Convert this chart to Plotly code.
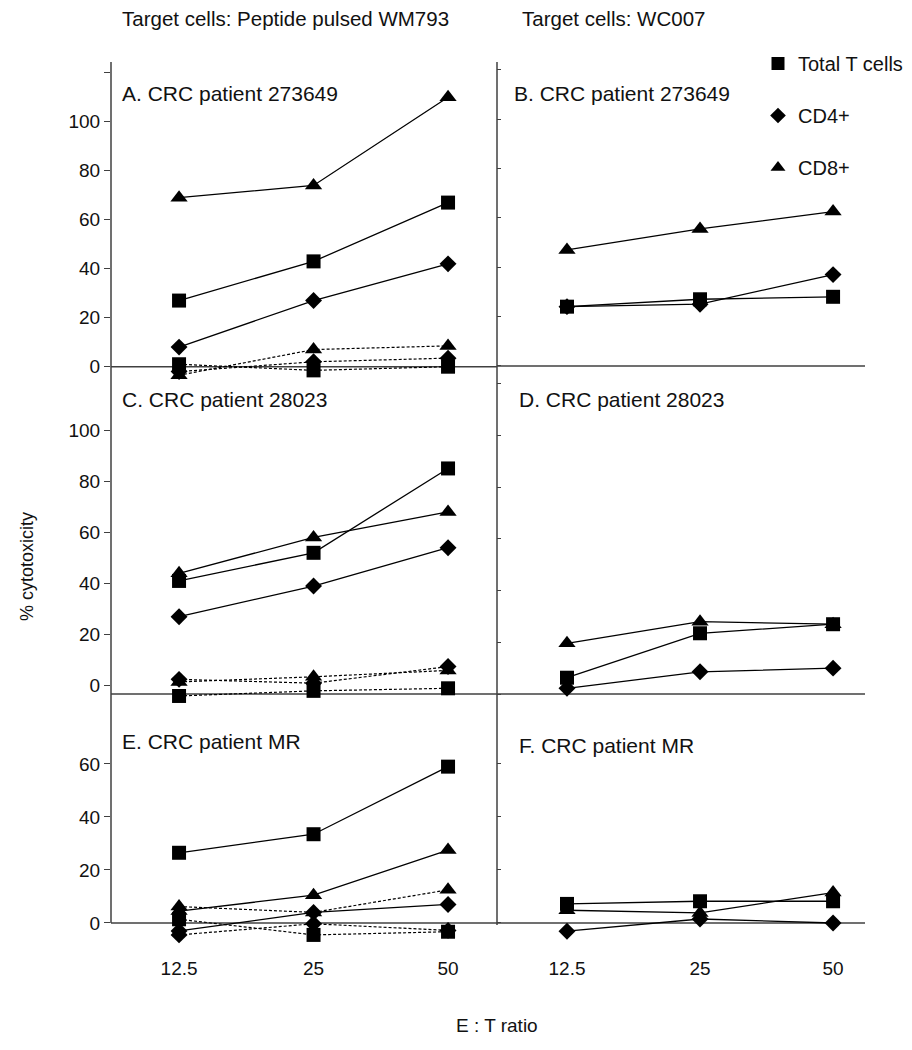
import plotly.graph_objects as go

# ---------------- data ----------------
ratios = ["12.5", "25", "50"]
x_idx = [0, 1, 2]

series_names = ["Total T cells", "CD4+", "CD8+"]
symbols = ["square", "diamond", "triangle-up"]
marker_sizes = [14, 13, 15]

# Panel A: CRC patient 273649, peptide pulsed WM793
A_total = [27, 43, 67]
A_cd4 = [8, 27, 42]
A_cd8 = [69, 74, 110]
A_total_ctrl = [1, -1.5, 0]
A_cd4_ctrl = [-2, 2, 3.5]
A_cd8_ctrl = [-3.5, 7, 8.5]

# Panel B: CRC patient 273649, WC007
B_total = [24, 27, 28]
B_cd4 = [24, 25, 37]
B_cd8 = [47, 55.5, 62.5]

# Panel C: CRC patient 28023, peptide pulsed WM793
C_total = [41, 52, 85]
C_cd4 = [27, 39, 54]
C_cd8 = [44, 58, 68]
C_total_ctrl = [-4, -2, -1]
C_cd4_ctrl = [2.5, 1, 7.5]
C_cd8_ctrl = [1.5, 3.5, 6]

# Panel D: CRC patient 28023, WC007
D_total = [6.3, 23.5, 27]
D_cd4 = [2.2, 8.6, 10]
D_cd8 = [19.6, 28, 27]

# Panel E: CRC patient MR, peptide pulsed WM793
E_total = [26.5, 33.5, 59]
E_cd4 = [-3, 4, 7]
E_cd8 = [4.5, 10.5, 27.5]
E_total_ctrl = [1.4, -4.5, -3.3]
E_cd4_ctrl = [-4.5, -0.3, -2.8]
E_cd8_ctrl = [6.2, 4, 12.5]

# Panel F: CRC patient MR, WC007
F_total = [7.2, 8.2, 8.2]
F_cd4 = [-3.1, 1.5, 0]
F_cd8 = [4.8, 3.8, 11.5]

panel_titles = ["A. CRC patient 273649", "B. CRC patient 273649",
                "C. CRC patient 28023", "D. CRC patient 28023",
                "E. CRC patient MR", "F. CRC patient MR"]

panels_solid = [
    [A_total, A_cd4, A_cd8],
    [B_total, B_cd4, B_cd8],
    [C_total, C_cd4, C_cd8],
    [D_total, D_cd4, D_cd8],
    [E_total, E_cd4, E_cd8],
    [F_total, F_cd4, F_cd8],
]
panels_dashed = [
    [A_total_ctrl, A_cd4_ctrl, A_cd8_ctrl],
    None,
    [C_total_ctrl, C_cd4_ctrl, C_cd8_ctrl],
    None,
    [E_total_ctrl, E_cd4_ctrl, E_cd8_ctrl],
    None,
]

# ---------------- layout geometry ----------------
OFF = 8                      # default page margin of the html body
W, H = 912 - OFF, 1050 - OFF
FONT = "Liberation Sans, Arial, sans-serif"


def px(x):
    return (x - OFF) / W


def py(y):
    return 1 - (y - OFF) / H


col_x = [(111, 497), (497, 865)]
row_y = [(62, 380), (380, 720), (720, 947)]
x_ranges = [[-0.506, 2.364], [-0.526, 2.24]]
y_ranges = [[-5.43, 124.4], [-5.7, 123.1],
            [-13.4, 119.6], [-10.06, 121.5],
            [-9.06, 76.6], [-9.06, 76.6]]
y_ticks = [list(range(0, 121, 20)), list(range(0, 121, 20)),
           list(range(0, 101, 20)), list(range(0, 121, 20)),
           list(range(0, 61, 20)), list(range(0, 61, 20))]
axis_cross = [0, 0, -3.2, 0, 0, 0]

AX = "#404040"
TXT = "#111"

fig = go.Figure()
layout = dict(
    width=W, height=H,
    margin=dict(l=0, r=0, t=0, b=0),
    paper_bgcolor="white", plot_bgcolor="white",
    font=dict(family=FONT, size=19, color=TXT),
    showlegend=True,
)
shapes = []
annotations = []

for i in range(6):
    n = i + 1
    r, c = divmod(i, 2)
    xs = "" if n == 1 else str(n)
    xa, ya = "x" + xs, "y" + xs
    bottom = r == 2
    layout["xaxis" + xs] = dict(
        domain=[px(col_x[c][0]), px(col_x[c][1])],
        range=x_ranges[c], anchor=ya,
        showgrid=False, zeroline=False, showline=False,
        tickmode="array", tickvals=x_idx, ticktext=ratios,
        showticklabels=bottom,
        ticks="outside" if bottom else "", ticklen=4, tickcolor="rgba(0,0,0,0)",
        tickfont=dict(family=FONT, size=19, color=TXT),
    )
    if c == 0:
        ttext = [str(v) if v <= 100 else "" for v in y_ticks[i]]
        layout["yaxis" + xs] = dict(
            domain=[py(row_y[r][1]), py(row_y[r][0])],
            range=y_ranges[i], anchor=xa,
            showgrid=False, zeroline=False, showline=False,
            tickmode="array", tickvals=y_ticks[i], ticktext=ttext,
            ticks="outside", ticklen=6, tickcolor=AX, tickwidth=1,
            tickfont=dict(family=FONT, size=19, color=TXT),
        )
    else:
        layout["yaxis" + xs] = dict(
            domain=[py(row_y[r][1]), py(row_y[r][0])],
            range=y_ranges[i], anchor=xa,
            showgrid=False, zeroline=False, showline=False,
            tickmode="array", tickvals=y_ticks[i],
            showticklabels=False,
            ticks="inside", ticklen=4, tickcolor=AX, tickwidth=1,
        )
    # horizontal axis line
    shapes.append(dict(type="line", xref=xa + " domain", yref=ya,
                       x0=0, x1=1, y0=axis_cross[i], y1=axis_cross[i],
                       line=dict(color=AX, width=1.5), layer="below"))

    # data
    for s in range(3):
        fig.add_trace(go.Scatter(
            x=x_idx, y=panels_solid[i][s], xaxis=xa, yaxis=ya,
            mode="lines+markers", showlegend=False,
            line=dict(color="black", width=1.3),
            marker=dict(symbol=symbols[s], size=marker_sizes[s], color="black"),
            cliponaxis=False,
        ))
        if panels_dashed[i] is not None:
            fig.add_trace(go.Scatter(
                x=x_idx, y=panels_dashed[i][s], xaxis=xa, yaxis=ya,
                mode="lines+markers", showlegend=False,
                line=dict(color="black", width=1.2, dash="3px,2px"),
                marker=dict(symbol=symbols[s], size=marker_sizes[s], color="black"),
                cliponaxis=False,
            ))

# vertical axis lines
shapes.append(dict(type="line", xref="paper", yref="paper",
                   x0=px(111), x1=px(111), y0=py(62), y1=py(923),
                   line=dict(color=AX, width=1.5)))
shapes.append(dict(type="line", xref="paper", yref="paper",
                   x0=px(497), x1=px(497), y0=py(62), y1=py(925),
                   line=dict(color=AX, width=1.5)))

# legend entries
for s in range(3):
    fig.add_trace(go.Scatter(
        x=[None], y=[None], mode="markers", name=series_names[s],
        legendgroup=series_names[s], showlegend=True,
        marker=dict(symbol=symbols[s], size=13 if s != 1 else 12, color="black"),
    ))

layout["legend"] = dict(
    x=px(758), y=py(44), xanchor="left", yanchor="top",
    font=dict(family=FONT, size=20, color=TXT),
    tracegroupgap=23, bgcolor="rgba(0,0,0,0)", borderwidth=0,
)

# panel titles
title_pos = [(120, 93), (512, 93), (120, 399), (517, 399), (120, 741), (517, 745)]
for t, (tx, ty) in zip(panel_titles, title_pos):
    annotations.append(dict(text=t, x=px(tx), y=py(ty), xref="paper", yref="paper",
                            xanchor="left", yanchor="middle", showarrow=False,
                            font=dict(family=FONT, size=21, color=TXT)))

annotations += [
    dict(text="Target cells: Peptide pulsed WM793", x=px(120), y=py(18),
         xref="paper", yref="paper", xanchor="left", yanchor="middle",
         showarrow=False, font=dict(family=FONT, size=20.5, color=TXT)),
    dict(text="Target cells: WC007", x=px(520), y=py(18),
         xref="paper", yref="paper", xanchor="left", yanchor="middle",
         showarrow=False, font=dict(family=FONT, size=20.5, color=TXT)),
    dict(text="% cytotoxicity", x=px(27), y=py(567), textangle=-90,
         xref="paper", yref="paper", xanchor="center", yanchor="middle",
         showarrow=False, font=dict(family=FONT, size=18, color=TXT)),
    dict(text="E : T ratio", x=px(497), y=py(1025),
         xref="paper", yref="paper", xanchor="center", yanchor="middle",
         showarrow=False, font=dict(family=FONT, size=19, color=TXT)),
]

layout["shapes"] = shapes
layout["annotations"] = annotations
fig.update_layout(**layout)
fig.write_html("out.html")
